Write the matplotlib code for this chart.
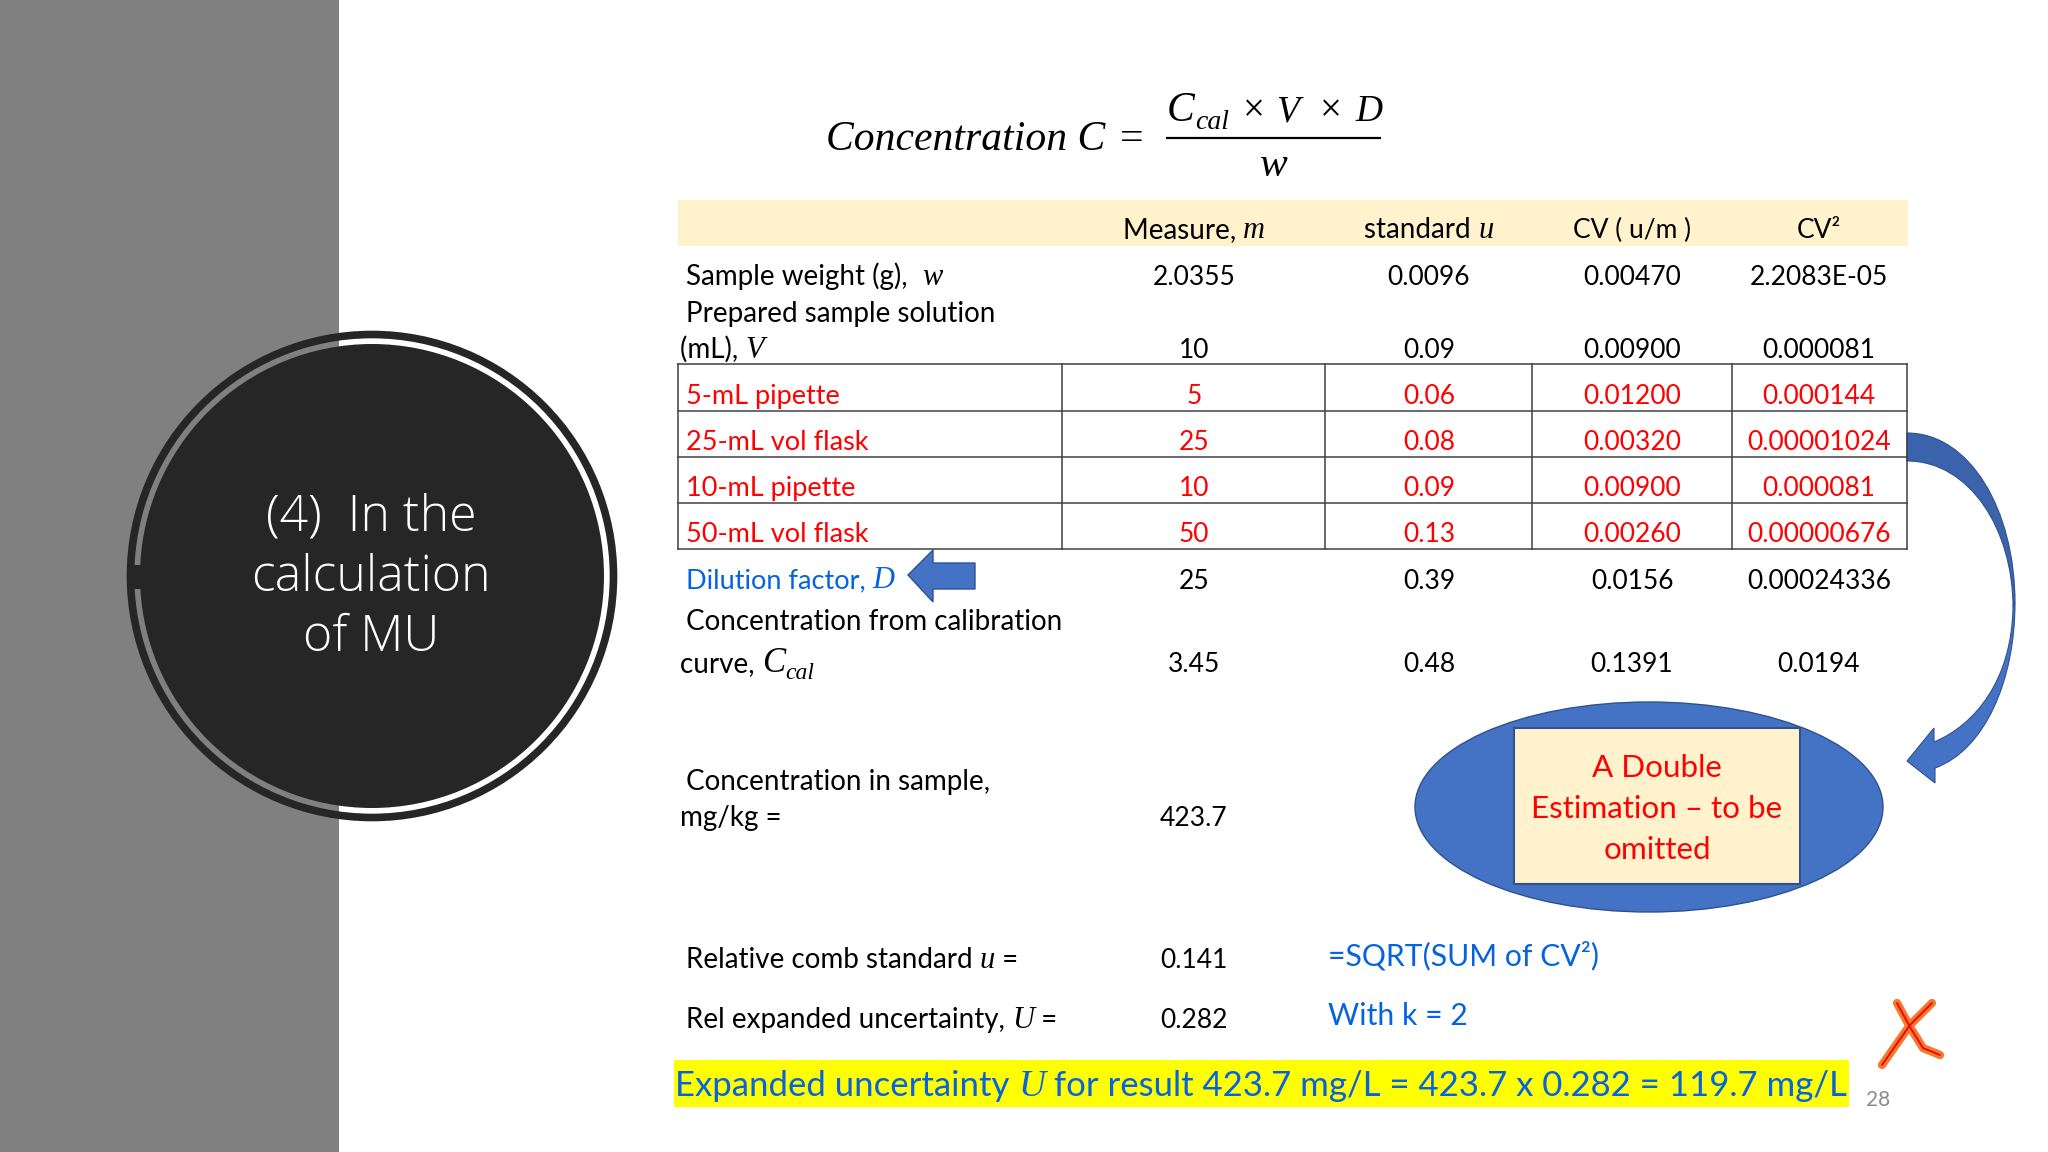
#!/usr/bin/env python
# -*- coding: utf-8 -*-
"""Slide: calculation of MU, table of uncertainty components"""

import matplotlib
matplotlib.use('Agg')
import matplotlib.pyplot as plt
from matplotlib.patches import Circle, Ellipse, PathPatch, Polygon, Rectangle
from matplotlib.path import Path

# table values
plain_measure = ['2.0355', '10', '25', '3.45']
plain_std = ['0.0096', '0.09', '0.39', '0.48']
plain_cv = ['0.00470', '0.00900', '0.0156', '0.1391']
plain_cv2 = ['2.2083E-05', '0.000081', '0.00024336', '0.0194']

boxed_labels = ['5-mL pipette', '25-mL vol flask', '10-mL pipette', '50-mL vol flask']
boxed_measure = ['5', '25', '10', '50']
boxed_std = ['0.06', '0.08', '0.09', '0.13']
boxed_cv = ['0.01200', '0.00320', '0.00900', '0.00260']
boxed_cv2 = ['0.000144', '0.00001024', '0.000081', '0.00000676']

sample_conc = '423.7'
rel_comb_u = '0.141'
rel_expanded_u = '0.282'
slide_number = '28'
title_lines = ['(4)  In the', 'calculation', 'of MU']
note_lines = ['A Double', 'Estimation – to be', 'omitted']

# slide layout, in pixels
COL_X = [1194, 1429, 1632, 1819]
BOX_Y = [364, 411, 457, 503, 549]
BOX_X = [678, 1062, 1325, 1532, 1732, 1907]

BLACK = '#000000'
RED = '#FF0000'
BLUE = '#0563E0'
SHAPE = '#4472C4'
SHAPE_EDGE = '#2F528F'
CREAM = '#FFF2CC'
DARK = '#262626'

FONTS = {
    'body': dict(family='Lato', size=20),
    'red': dict(family='Lato', size=19.5),
    'num': dict(family='Lato', size=19),
    'note': dict(family='Lato', size=22.6),
    'blue': dict(family='Lato', size=21.7),
    'serif': dict(family='Liberation Serif', style='italic', size=22),
    'formula': dict(family='Liberation Serif', style='italic', size=30),
    'formula_vd': dict(family='Liberation Serif', style='italic', size=27),
    'formula_sub': dict(family='Liberation Serif', style='italic', size=20),
    'cal': dict(family='Liberation Serif', style='italic', size=17),
    'big_c': dict(family='Liberation Serif', style='italic', size=25),
    'banner': dict(family='Lato', size=25),
    'banner_i': dict(family='Liberation Serif', style='italic', size=27),
}

fig = plt.figure(figsize=(20.48, 11.52), dpi=100, facecolor='white')
ax = fig.add_axes([0, 0, 1, 1])
ax.set_xlim(0, 2048)
ax.set_ylim(1152, 0)
ax.axis('off')
renderer = fig.canvas.get_renderer()


def text_width(s, font):
    # bars keep the spaces at the ends of the string in the measure
    t1 = ax.text(0, 0, '|' + s + '|', **FONTS[font])
    t2 = ax.text(0, 0, '||', **FONTS[font])
    w = t1.get_window_extent(renderer).width - t2.get_window_extent(renderer).width
    t1.remove()
    t2.remove()
    return w


def runs(x, y, parts, color=BLACK, align='left'):
    """Draw mixed-font text on one baseline. parts = (string, font[, shift])"""
    total = sum(text_width(p[0], p[1]) for p in parts)
    if align == 'center':
        x = x - total / 2
    for p in parts:
        shift = p[2] if len(p) > 2 else 0
        ax.text(x, y + shift, p[0], color=color, ha='left', va='baseline', **FONTS[p[1]])
        x += text_width(p[0], p[1])


def cell(x, y, s, color=BLACK):
    runs(x, y, [(s, 'num')], color, 'center')


# left band and circle
ax.add_patch(Rectangle((0, 0), 339, 1152, fc='#808080', ec='none'))
ax.add_patch(Circle((372, 576), 241.5, fc='none', ec=DARK, lw=5.5))
ax.add_patch(Circle((372, 576), 232, fc=DARK, ec='none'))
ax.add_patch(Rectangle((127, 565), 14, 24, fc=DARK, ec='none'))
for line, base in zip(title_lines, [531, 591, 651]):
    ax.text(371, base, line, color='white', ha='center', va='baseline',
            family='Open Sans', weight=300, size=36)

# formula
runs(826, 150, [('Concentration C', 'formula')])
ax.text(1120, 150, '=', color=BLACK, family='Liberation Serif', size=30, va='baseline')
runs(1167, 121, [('C', 'formula')])
runs(1195, 129, [('cal', 'formula_sub')])
ax.text(1243, 121, '×', color=BLACK, family='Liberation Serif', size=28, va='baseline')
runs(1276, 121, [('V', 'formula_vd')])
ax.text(1320, 121, '×', color=BLACK, family='Liberation Serif', size=28, va='baseline')
runs(1355, 121, [('D', 'formula_vd')])
ax.plot([1166, 1381], [137.5, 137.5], color=BLACK, lw=1.6, solid_capstyle='butt')
runs(1260, 176, [('w', 'formula')])

# header band
ax.add_patch(Rectangle((678, 200), 1230, 46, fc=CREAM, ec='none'))
runs(COL_X[0], 238, [('Measure, ', 'body'), ('m', 'serif')], align='center')
runs(COL_X[1], 238, [('standard ', 'body'), ('u', 'serif')], align='center')
cell(COL_X[2], 238, 'CV ( u/m )')
cell(COL_X[3], 238, 'CV²')

# rows above the box
runs(686, 285, [('Sample weight (g),  ', 'body'), ('w', 'serif')])
runs(686, 322, [('Prepared sample solution', 'body')])
runs(680, 358, [('(mL), ', 'body'), ('V', 'serif')])
# rows below the box
runs(686, 588, [('Dilution factor, ', 'red'), ('D', 'serif')], BLUE)
runs(686, 630, [('Concentration from calibration', 'body')])
runs(680, 672, [('curve, ', 'body'), ('C', 'big_c'), ('cal', 'cal', 7)])

plain_y = [285, 358, 589, 672]
for y, row in zip(plain_y, zip(plain_measure, plain_std, plain_cv, plain_cv2)):
    for x, val in zip(COL_X, row):
        cell(x, y, val)

# boxed rows
for x in BOX_X:
    ax.plot([x, x], [BOX_Y[0], BOX_Y[-1]], color='#404040', lw=1.1, solid_capstyle='projecting')
for y in BOX_Y:
    ax.plot([BOX_X[0], BOX_X[-1]], [y, y], color='#404040', lw=1.1, solid_capstyle='projecting')
boxed_y = [404, 450, 496, 542]
for i, y in enumerate(boxed_y):
    runs(686, y, [(boxed_labels[i], 'red')], RED)
    for x, val in zip(COL_X, (boxed_measure[i], boxed_std[i], boxed_cv[i], boxed_cv2[i])):
        cell(x, y, val, RED)

# left arrow next to the dilution factor
ax.add_patch(Polygon([(908, 575), (933, 550), (933, 563), (975, 563), (975, 589), (933, 589), (933, 602)],
                     closed=True, fc=SHAPE, ec=SHAPE_EDGE, lw=1))

# lower part of the table
runs(686, 790, [('Concentration in sample,', 'body')])
runs(680, 826, [('mg/kg =', 'body')])
cell(COL_X[0], 826, sample_conc)
runs(686, 968, [('Relative comb standard ', 'body'), ('u', 'serif'), (' =', 'body')])
cell(COL_X[0], 968, rel_comb_u)
runs(686, 1028, [('Rel expanded uncertainty, ', 'body'), ('U', 'serif'), (' =', 'body')])
cell(COL_X[0], 1028, rel_expanded_u)
runs(1328, 965, [('=SQRT(SUM of CV²)', 'blue')], BLUE)
runs(1328, 1025, [('With k = 2', 'blue')], BLUE)

# ellipse with the note
ax.add_patch(Ellipse((1649, 807), 468, 210, fc=SHAPE, ec=SHAPE_EDGE, lw=1))
ax.add_patch(Rectangle((1514, 728), 286, 156, fc=CREAM, ec=SHAPE_EDGE, lw=1.5))
for line, base in zip(note_lines, [777, 818, 859]):
    runs(1657, base, [(line, 'note')], RED, 'center')

# curved arrow, darker at the top
upper = Path([(1907, 433), (1970, 433), (2015, 510), (2015, 603),
              (2013, 607), (2013, 530), (1970, 461), (1907, 461), (1907, 433)],
             [Path.MOVETO, Path.CURVE4, Path.CURVE4, Path.CURVE4,
              Path.LINETO, Path.CURVE4, Path.CURVE4, Path.CURVE4, Path.CLOSEPOLY])
lower = Path([(2015, 603), (2015, 680), (1985, 750), (1935, 768), (1935, 783), (1907, 761),
              (1934, 728), (1934, 742), (1975, 725), (2012, 680), (2013, 607), (2015, 603)],
             [Path.MOVETO, Path.CURVE4, Path.CURVE4, Path.CURVE4, Path.LINETO, Path.LINETO,
              Path.LINETO, Path.LINETO, Path.CURVE4, Path.CURVE4, Path.CURVE4, Path.CLOSEPOLY])
ax.add_patch(PathPatch(upper, fc='#3A63AC', ec=SHAPE_EDGE, lw=0.8))
ax.add_patch(PathPatch(lower, fc=SHAPE, ec=SHAPE_EDGE, lw=0.8))

# yellow banner
ax.add_patch(Rectangle((674, 1060), 1175, 47, fc='#FFFF00', ec='none'))
runs(675, 1096, [('Expanded uncertainty ', 'banner'), ('U', 'banner_i'),
                 (' for result 423.7 mg/L = 423.7 x 0.282 = 119.7 mg/L', 'banner')], BLUE)

# hand drawn cross
stroke_a = ([1932, 1910, 1882], [1003, 1025, 1065])
stroke_b = ([1897, 1910, 1923, 1940], [1003, 1027, 1048, 1055])
for xs, ys in (stroke_a, stroke_b):
    ax.plot(xs, ys, color='#ED7D31', lw=6, solid_capstyle='round', solid_joinstyle='round')
for xs, ys in (stroke_a, stroke_b):
    ax.plot(xs, ys, color=RED, lw=1.4, solid_capstyle='round', solid_joinstyle='round')

ax.text(1878, 1106, slide_number, color='#8B8B8B', ha='center', va='baseline', family='Lato', size=15)

fig.savefig('out.png', dpi=100)
